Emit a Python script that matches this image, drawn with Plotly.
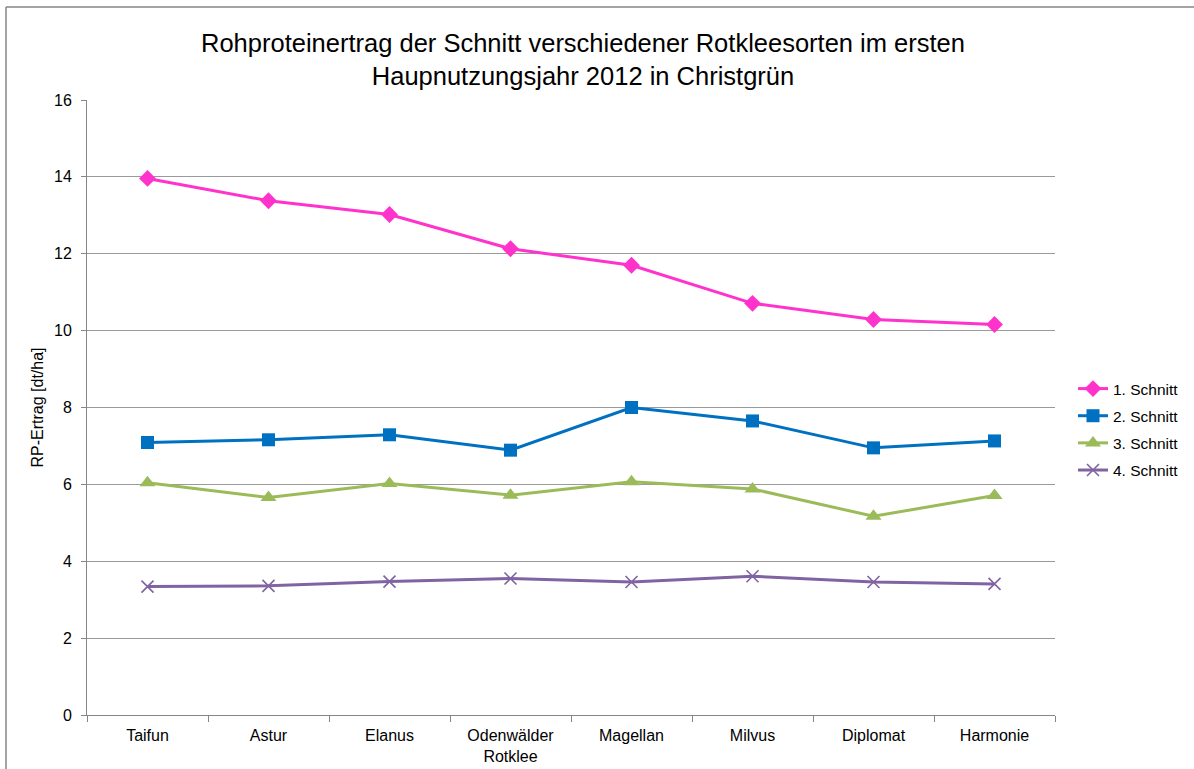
import plotly.graph_objects as go

categories = ["Taifun", "Astur", "Elanus", "Odenwälder<br>Rotklee", "Magellan", "Milvus", "Diplomat", "Harmonie"]
schnitt1 = [13.96, 13.38, 13.02, 12.13, 11.70, 10.71, 10.29, 10.16]
schnitt2 = [7.09, 7.16, 7.29, 6.89, 8.00, 7.65, 6.95, 7.13]
schnitt3 = [6.04, 5.66, 6.02, 5.72, 6.07, 5.88, 5.17, 5.71]
schnitt4 = [3.34, 3.36, 3.47, 3.55, 3.46, 3.61, 3.46, 3.41]
series_names = ["1. Schnitt", "2. Schnitt", "3. Schnitt", "4. Schnitt"]
y_ticks = [0, 2, 4, 6, 8, 10, 12, 14, 16]

colors = ["#FF33CC", "#0070C0", "#9BBB59", "#8064A2"]
symbols = ["diamond", "square", "triangle-up", "x-thin"]
sizes = [13, 13, 14, 12]
data = [schnitt1, schnitt2, schnitt3, schnitt4]

W, H = 1194, 769
L, R, T, B = 87, 1055, 100, 715

fig = go.Figure()
for i, (name, vals) in enumerate(zip(series_names, data)):
    marker = dict(symbol=symbols[i], size=sizes[i], color=colors[i])
    if symbols[i] == "x-thin":
        marker["line"] = dict(color=colors[i], width=1.6)
    fig.add_trace(go.Scatter(
        x=categories, y=vals, name=name, mode="lines+markers",
        line=dict(color=colors[i], width=3), marker=marker,
        legendgroup=name,
    ))

def px(xp):
    return (xp - L) / (R - L)

def py(yp):
    return (B - yp) / (B - T)

border = dict(color="#868686", width=1.5)

fig.update_layout(
    width=W, height=H,
    margin=dict(l=L, r=W - R, t=T, b=H - B, autoexpand=False),
    paper_bgcolor="white", plot_bgcolor="white",
    font=dict(family="Liberation Sans, Arial, sans-serif", color="#000000", size=16),
    title=dict(
        text="Rohproteinertrag der Schnitt verschiedener Rotkleesorten im ersten<br>Haupnutzungsjahr 2012 in Christgrün",
        x=px(583), xanchor="center", xref="paper",
        y=1 - 52 / H, yanchor="middle",
        font=dict(size=25.5),
    ),
    showlegend=True,
    legend=dict(
        x=px(1073), xanchor="left", y=py(372), yanchor="top",
        font=dict(size=15.5), traceorder="grouped", tracegroupgap=4,
        bgcolor="rgba(0,0,0,0)", itemwidth=30,
    ),
    xaxis=dict(
        type="category", range=[-0.5, 7.5], automargin=False,
        showline=True, linecolor="#868686", linewidth=1,
        ticks="outside", tickson="boundaries", ticklen=6, tickcolor="#868686",
        showgrid=False, tickfont=dict(size=16), ticklabelstandoff=6,
    ),
    yaxis=dict(
        range=[0, 16], tickvals=y_ticks, automargin=False,
        showline=True, linecolor="#868686", linewidth=1,
        ticks="outside", ticklen=5, tickcolor="#868686",
        showgrid=True, gridcolor="#9a9a9a", gridwidth=1,
        zeroline=False, tickfont=dict(size=16), ticklabelstandoff=6,
        title=dict(text="RP-Ertrag [dt/ha]", font=dict(size=16), standoff=6),
    ),
    shapes=[
        dict(type="line", xref="paper", yref="paper",
             x0=px(6), x1=px(6), y0=py(775), y1=py(7), line=border, layer="below"),
        dict(type="line", xref="paper", yref="paper",
             x0=px(6), x1=px(1200), y0=py(7), y1=py(7), line=border, layer="below"),
    ],
)

fig.write_html("out.html", config={"displayModeBar": False},
               post_script="document.body.style.margin='0';")
